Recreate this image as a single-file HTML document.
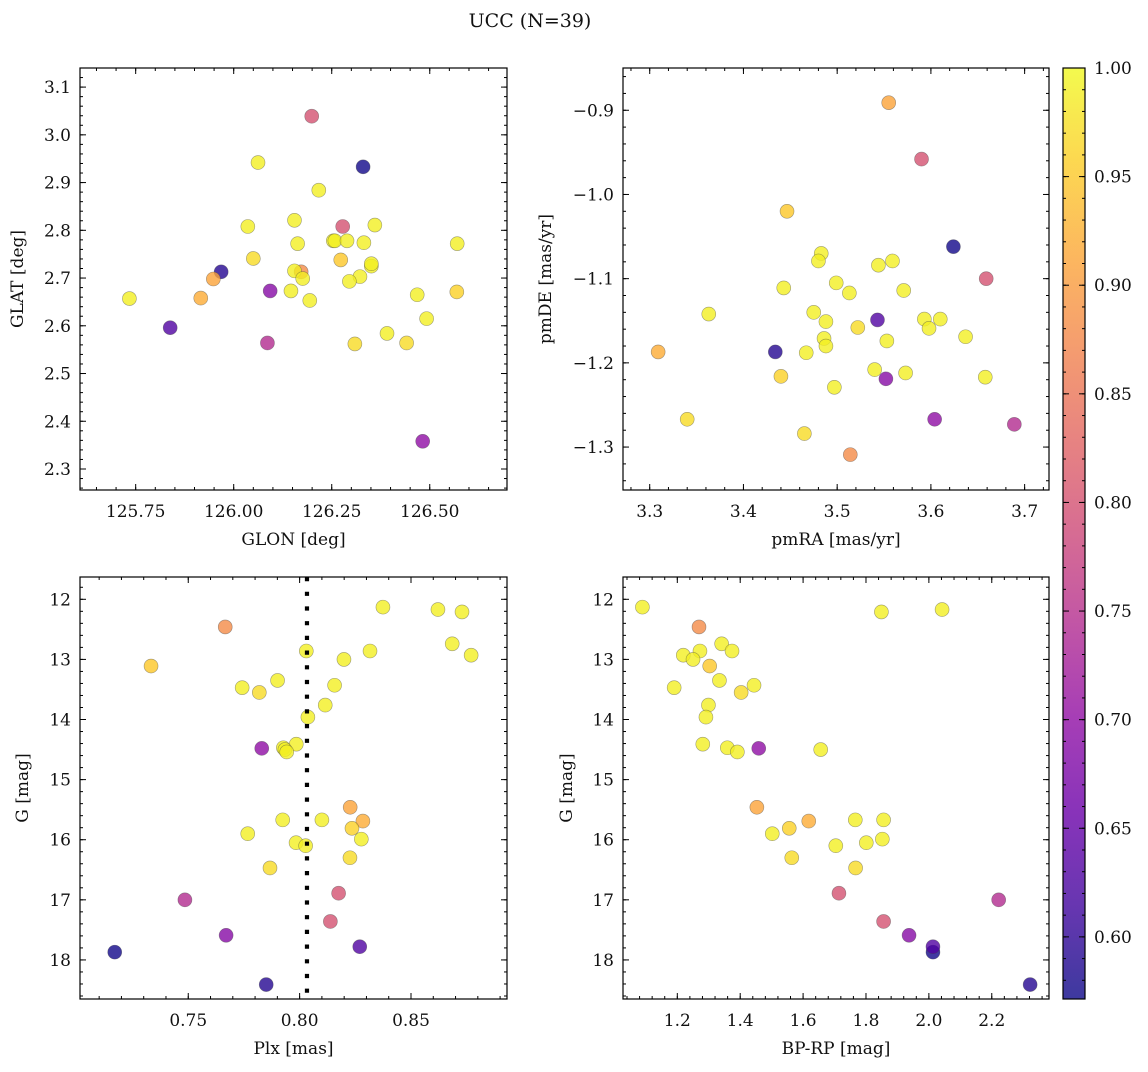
<!DOCTYPE html>
<html><head><meta charset="utf-8"><title>UCC (N=39)</title>
<style>
html,body{margin:0;padding:0;background:#fff;}
svg text{font-family:"DejaVu Serif","Liberation Serif",serif;fill:#111;}
</style></head>
<body>
<svg id="fig" width="1148" height="1067" viewBox="0 0 1148 1067" xmlns="http://www.w3.org/2000/svg">
<text x="530" y="27" font-size="19" text-anchor="middle">UCC (N=39)</text>
</svg>
<script>
const prob=[0.575,0.59,0.63,0.69,0.70,0.745,0.80,0.80,0.88,0.91,0.92,0.95,
0.99,0.99,0.99,0.99,0.99,0.99,0.99,0.99,0.99,0.99,0.99,0.97,0.99,0.99,0.99,0.99,0.99,0.99,0.99,0.99,0.96,0.99,0.99,0.99,0.99,0.97,0.97];
const glon=[126.330,125.968,125.838,126.093,126.482,126.086,126.199,126.278,126.172,125.948,125.916,126.273,
126.062,126.217,126.036,126.155,126.360,126.163,126.254,126.258,126.289,126.332,126.570,126.050,126.351,126.351,126.155,126.176,126.322,126.295,126.146,126.468,126.569,125.734,126.194,126.492,126.391,126.309,126.441];
const glat=[2.933,2.713,2.596,2.673,2.358,2.564,3.039,2.808,2.713,2.698,2.658,2.738,
2.942,2.884,2.808,2.821,2.811,2.772,2.778,2.778,2.778,2.774,2.772,2.741,2.725,2.730,2.715,2.699,2.703,2.693,2.673,2.665,2.671,2.657,2.653,2.615,2.584,2.562,2.564];
const pmra=[3.624,3.434,3.543,3.552,3.604,3.689,3.590,3.659,3.514,3.555,3.309,3.4465,
3.483,3.480,3.544,3.559,3.499,3.513,3.571,3.443,3.363,3.475,3.488,3.522,3.593,3.610,3.598,3.637,3.486,3.488,3.553,3.467,3.440,3.540,3.573,3.658,3.497,3.340,3.465];
const pmde=[-1.062,-1.187,-1.149,-1.219,-1.267,-1.273,-0.958,-1.100,-1.309,-0.891,-1.187,-1.020,
-1.070,-1.079,-1.084,-1.079,-1.105,-1.117,-1.114,-1.111,-1.142,-1.140,-1.151,-1.158,-1.148,-1.148,-1.159,-1.169,-1.171,-1.180,-1.174,-1.188,-1.216,-1.208,-1.212,-1.217,-1.229,-1.267,-1.284];
const plx=[0.717,0.785,0.827,0.767,0.783,0.7485,0.8175,0.8138,0.7666,0.8227,0.8284,0.7333,
0.8374,0.8621,0.8729,0.8685,0.803,0.8316,0.877,0.8199,0.7901,0.8157,0.7742,0.7819,0.8115,0.8037,0.7985,0.7927,0.7934,0.7942,0.7924,0.810,0.8235,0.7767,0.8277,0.7984,0.8027,0.8226,0.7867];
const gmag=[17.87,18.41,17.78,17.59,14.48,17.00,16.89,17.36,12.46,15.46,15.69,13.11,
12.13,12.17,12.21,12.74,12.86,12.86,12.93,13.00,13.35,13.43,13.47,13.55,13.76,13.96,14.41,14.47,14.50,14.54,15.67,15.67,15.81,15.90,15.99,16.05,16.10,16.30,16.47];
const bprp=[2.013,2.322,2.013,1.937,1.459,2.222,1.714,1.856,1.269,1.453,1.618,1.303,
1.089,2.042,1.849,1.341,1.272,1.374,1.219,1.250,1.334,1.444,1.190,1.403,1.299,1.291,1.281,1.359,1.656,1.391,1.766,1.856,1.556,1.502,1.852,1.801,1.704,1.564,1.767];
const plxLine=0.8033;
const cbTicks=[0.60,0.65,0.70,0.75,0.80,0.85,0.90,0.95,1.00];
const vmin=0.5714, vmax=1.0;

const NS="http://www.w3.org/2000/svg";
const svg=document.getElementById('fig');
function mk(tag,attrs,parent){const e=document.createElementNS(NS,tag);for(const k in attrs)e.setAttribute(k,attrs[k]);(parent||svg).appendChild(e);return e;}
const PL=[[0,[13,8,135]],[0.1,[65,4,157]],[0.2,[106,0,168]],[0.3,[143,13,164]],[0.4,[177,42,144]],[0.5,[204,71,120]],[0.6,[225,100,98]],[0.7,[242,132,75]],[0.8,[252,166,54]],[0.9,[252,206,37]],[1.0,[240,249,33]]];
function plasma(t){t=Math.max(0,Math.min(1,t));for(let i=1;i<PL.length;i++){if(t<=PL[i][0]){const a=PL[i-1],b=PL[i];const f=(t-a[0])/(b[0]-a[0]);const c=a[1].map((v,j)=>Math.round(v+(b[1][j]-v)*f));return `rgb(${c[0]},${c[1]},${c[2]})`;}}return 'rgb(240,249,33)';}
function fmt(v,d){const s=v.toFixed(d);return s.replace('-','\u2212');}

function axes(c){
  const g=mk('g',{});
  
  
  const sx=v=>c.x0+(v-c.xmin)/(c.xmax-c.xmin)*c.w;
  const sy=c.inv? (v=>c.y0+(v-c.ymin)/(c.ymax-c.ymin)*c.h) : (v=>c.y0+c.h-(v-c.ymin)/(c.ymax-c.ymin)*c.h);
  const pg=mk('g',{},g);
  
  
  for(let i=0;i<c.xs.length;i++){
    const t=(prob[i]-vmin)/(vmax-vmin);
    const p=mk('circle',{cx:sx(c.xs[i]),cy:sy(c.ys[i]),r:7,fill:plasma(t),'fill-opacity':0.8,stroke:'#444','stroke-width':0.6,'stroke-opacity':0.5},pg);
    
    
  }
  if(c.vline!==undefined){
    const ln=mk('line',{x1:sx(c.vline),x2:sx(c.vline),y1:c.y0,y2:c.y0+c.h,stroke:'#000','stroke-width':4.2,'stroke-dasharray':'4.2 10.5'},g);
    
    
  }
  const fr=mk('rect',{x:c.x0,y:c.y0,width:c.w,height:c.h,fill:'none',stroke:'#000','stroke-width':1.2},g);
  
  
  const tg=mk('g',{stroke:'#000','stroke-width':1},g);
  const eps=1e-9;
  for(let v=Math.ceil(c.xmin/c.xminor-eps)*c.xminor; v<=c.xmax; v+=c.xminor){const X=sx(v);mk('line',{x1:X,x2:X,y1:c.y0+c.h,y2:c.y0+c.h-3},tg);mk('line',{x1:X,x2:X,y1:c.y0,y2:c.y0+3},tg);}
  for(let v=Math.ceil(c.ymin/c.yminor-eps)*c.yminor; v<=c.ymax; v+=c.yminor){const Y=sy(v);mk('line',{x1:c.x0,x2:c.x0+3,y1:Y,y2:Y},tg);mk('line',{x1:c.x0+c.w,x2:c.x0+c.w-3,y1:Y,y2:Y},tg);}
  c.xt.forEach(v=>{const X=sx(v);mk('line',{x1:X,x2:X,y1:c.y0+c.h,y2:c.y0+c.h-6},tg);mk('line',{x1:X,x2:X,y1:c.y0,y2:c.y0+6},tg);
    const t=mk('text',{x:X,y:c.y0+c.h+27,'font-size':17,'text-anchor':'middle'},g);t.textContent=fmt(v,c.xd);
    
    });
  c.yt.forEach(v=>{const Y=sy(v);mk('line',{x1:c.x0,x2:c.x0+6,y1:Y,y2:Y},tg);mk('line',{x1:c.x0+c.w,x2:c.x0+c.w-6,y1:Y,y2:Y},tg);
    const t=mk('text',{x:c.x0-9,y:Y+6,'font-size':17,'text-anchor':'end'},g);t.textContent=fmt(v,c.yd);
    
    });
  const xl=mk('text',{x:c.x0+c.w/2,y:c.y0+c.h+55,'font-size':17,'text-anchor':'middle'},g);xl.textContent=c.xlabel;
  
  
  const yx=c.ylx, yy=c.y0+c.h/2;
  const yl=mk('text',{x:yx,y:yy,'font-size':17,'text-anchor':'middle',transform:`rotate(-90 ${yx} ${yy})`},g);yl.textContent=c.ylabel;
  
  
}
axes({name:'glon-glat-panel',x0:80,y0:68,w:427,h:422,xmin:125.608,xmax:126.697,ymin:2.256,ymax:3.140,xs:glon,ys:glat,
  xt:[125.75,126.0,126.25,126.5],xd:2,xminor:0.05,yt:[2.3,2.4,2.5,2.6,2.7,2.8,2.9,3.0,3.1],yd:1,yminor:0.02,xlabel:'GLON [deg]',ylabel:'GLAT [deg]',ylx:23});
axes({name:'pm-panel',x0:623,y0:68,w:426,h:422,xmin:3.2715,xmax:3.726,ymin:-1.351,ymax:-0.8498,xs:pmra,ys:pmde,
  xt:[3.3,3.4,3.5,3.6,3.7],xd:1,xminor:0.02,yt:[-1.3,-1.2,-1.1,-1.0,-0.9],yd:1,yminor:0.02,xlabel:'pmRA [mas/yr]',ylabel:'pmDE [mas/yr]',ylx:551});
axes({name:'plx-g-panel',x0:80,y0:577,w:427,h:422,xmin:0.7014,xmax:0.8931,ymin:11.629,ymax:18.65,inv:true,xs:plx,ys:gmag,vline:plxLine,
  xt:[0.75,0.80,0.85],xd:2,xminor:0.01,yt:[12,13,14,15,16,17,18],yd:0,yminor:0.2,xlabel:'Plx [mas]',ylabel:'G [mag]',ylx:28});
axes({name:'cmd-panel',x0:623,y0:577,w:426,h:422,xmin:1.0273,xmax:2.382,ymin:11.629,ymax:18.65,inv:true,xs:bprp,ys:gmag,
  xt:[1.2,1.4,1.6,1.8,2.0,2.2],xd:1,xminor:0.04,yt:[12,13,14,15,16,17,18],yd:0,yminor:0.2,xlabel:'BP-RP [mag]',ylabel:'G [mag]',ylx:572});

(function(){
  const x=1063,y=68,w=22,h=931;
  const defs=mk('defs',{});
  const lg=mk('linearGradient',{id:'cbg',x1:0,y1:1,x2:0,y2:0},defs);
  for(let i=0;i<=20;i++){const t=i/20;mk('stop',{offset:t,'stop-color':plasma(t),'stop-opacity':0.8},lg);}
  const g=mk('g',{});
  
  
  mk('rect',{x:x,y:y,width:w,height:h,fill:'url(#cbg)',stroke:'#000','stroke-width':1.2},g);
  const sy=v=>y+h-(v-vmin)/(vmax-vmin)*h;
  for(let v=0.58;v<=1.0001;v+=0.01){const Y=sy(v);mk('line',{x1:x+w,x2:x+w-3,y1:Y,y2:Y,stroke:'#000'},g);mk('line',{x1:x,x2:x+3,y1:Y,y2:Y,stroke:'#000'},g);}
  cbTicks.forEach(v=>{const Y=sy(v);mk('line',{x1:x+w,x2:x+w-6,y1:Y,y2:Y,stroke:'#000'},g);mk('line',{x1:x,x2:x+6,y1:Y,y2:Y,stroke:'#000'},g);
    const t=mk('text',{x:x+w+9,y:Y+6,'font-size':17},g);t.textContent=v.toFixed(2);
    
    });
})();
</script>
</body></html>
